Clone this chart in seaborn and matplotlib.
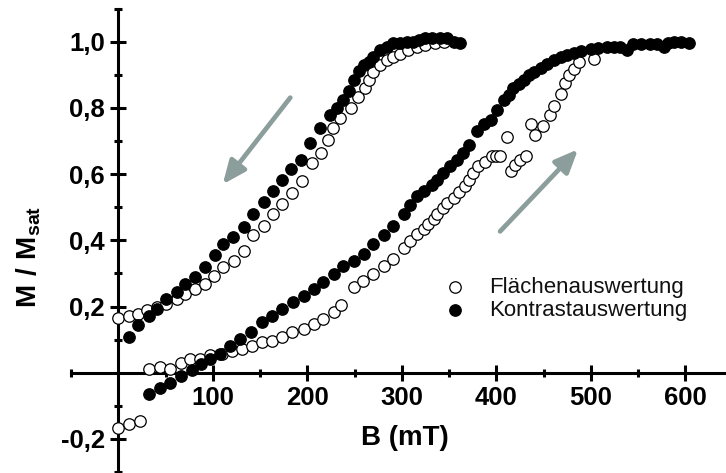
import pandas as pd
import matplotlib.pyplot as plt
import matplotlib.ticker as mticker
import seaborn as sns

# Values (B in mT, M / Msat)
# decreasing field branch
desc_open_B = [0, 11, 21, 30, 41, 51, 62, 71, 81, 92, 101, 111, 122, 133, 143, 154, 164, 173, 184, 194,
               205, 214, 222, 227, 235, 246, 254, 261, 265, 270, 277, 284, 291, 298, 307, 316, 325, 335, 345]
desc_open_M = [0.165, 0.171, 0.178, 0.188, 0.198, 0.208, 0.223, 0.238, 0.253, 0.268, 0.293, 0.318, 0.338, 0.367,
               0.415, 0.443, 0.478, 0.511, 0.543, 0.578, 0.634, 0.664, 0.704, 0.740, 0.770, 0.800, 0.834, 0.859,
               0.885, 0.909, 0.930, 0.944, 0.955, 0.964, 0.975, 0.984, 0.990, 0.995, 1.000]

desc_filled_B = [11, 21, 32, 41, 51, 62, 71, 81, 92, 102, 111, 121, 133, 143, 154, 164, 173, 183, 193, 203,
                 213, 224, 231, 238, 244, 249, 255, 260, 265, 270, 277, 284, 291, 298, 305, 312, 318, 325, 332,
                 340, 348, 355, 362]
desc_filled_M = [0.107, 0.144, 0.172, 0.193, 0.222, 0.243, 0.268, 0.288, 0.320, 0.355, 0.388, 0.410, 0.440, 0.478,
                 0.515, 0.548, 0.583, 0.614, 0.644, 0.695, 0.740, 0.779, 0.800, 0.824, 0.850, 0.884, 0.910, 0.930,
                 0.940, 0.955, 0.975, 0.985, 0.995, 0.997, 1.000, 1.000, 1.005, 1.010, 1.012, 1.012, 1.010, 1.000,
                 0.996]

# increasing field branch
asc_open_B = [0, 11, 23, 32, 44, 55, 66, 76, 87, 97, 110, 120, 131, 141, 152, 163, 173, 184, 196, 207,
              217, 228, 236, 249, 259, 270, 281, 291, 302, 309, 316, 323, 328, 334, 337, 344, 348, 355, 360, 367,
              371, 375, 381, 388, 395, 400, 404, 411, 415, 420, 425, 431, 437, 441, 449, 457, 461, 468, 473, 477,
              482, 488, 503]
asc_open_M = [-0.167, -0.156, -0.146, 0.012, 0.017, 0.010, 0.030, 0.040, 0.042, 0.054, 0.057, 0.067, 0.072, 0.082,
              0.092, 0.097, 0.107, 0.122, 0.132, 0.147, 0.162, 0.182, 0.205, 0.258, 0.277, 0.298, 0.323, 0.343,
              0.378, 0.398, 0.418, 0.433, 0.448, 0.463, 0.478, 0.498, 0.513, 0.528, 0.545, 0.563, 0.583, 0.603,
              0.623, 0.638, 0.654, 0.655, 0.654, 0.711, 0.608, 0.628, 0.644, 0.654, 0.750, 0.717, 0.745, 0.779,
              0.807, 0.843, 0.874, 0.899, 0.917, 0.939, 0.949]

asc_filled_B = [32, 44, 55, 66, 78, 88, 97, 108, 118, 129, 140, 152, 163, 173, 185, 196, 207, 217, 228, 238,
                249, 260, 270, 281, 291, 302, 309, 316, 323, 332, 337, 344, 351, 358, 365, 371, 380, 387, 394, 401,
                408, 413, 418, 424, 429, 435, 440, 447, 454, 461, 468, 475, 482, 490, 500, 508, 517, 524, 531, 538,
                545, 553, 563, 570, 577, 582, 588, 595, 604]
asc_filled_M = [-0.063, -0.045, -0.030, -0.009, 0.007, 0.027, 0.042, 0.057, 0.082, 0.102, 0.124, 0.152, 0.172,
                0.193, 0.213, 0.232, 0.253, 0.273, 0.298, 0.323, 0.338, 0.358, 0.388, 0.415, 0.443, 0.480, 0.508,
                0.533, 0.550, 0.568, 0.583, 0.603, 0.623, 0.644, 0.664, 0.689, 0.729, 0.750, 0.764, 0.794, 0.824,
                0.840, 0.859, 0.872, 0.884, 0.900, 0.909, 0.922, 0.934, 0.945, 0.954, 0.960, 0.966, 0.972, 0.979,
                0.982, 0.984, 0.984, 0.985, 0.974, 0.994, 0.994, 0.994, 0.992, 0.984, 0.995, 0.999, 0.998, 0.997]

x_ticks = [100, 200, 300, 400, 500, 600]
x_minor = [-50, 50, 150, 250, 350, 450, 550]
y_ticks = [-0.2, 0.2, 0.4, 0.6, 0.8, 1.0]
y_minor = [-0.3, -0.1, 0.1, 0.3, 0.5, 0.7, 0.9, 1.1]

# arrows marking sweep direction (tail, head)
arrow_down = ((182, 0.831), (110.5, 0.569))
arrow_up = ((404, 0.427), (486.5, 0.675))
arrow_color = '#8c9e9b'

LABEL_OPEN = 'Flächenauswertung'
LABEL_FILLED = 'Kontrastauswertung'

frames = []
for b, m, meth in [(desc_open_B, desc_open_M, LABEL_OPEN), (asc_open_B, asc_open_M, LABEL_OPEN),
                   (desc_filled_B, desc_filled_M, LABEL_FILLED), (asc_filled_B, asc_filled_M, LABEL_FILLED)]:
    frames.append(pd.DataFrame({'B': b, 'M': m, 'Methode': meth}))
df = pd.concat(frames, ignore_index=True)

sns.set_theme(style='white')
plt.rcParams['font.family'] = ['Liberation Sans', 'DejaVu Sans']
plt.rcParams['mathtext.fontset'] = 'custom'
plt.rcParams['mathtext.rm'] = 'Liberation Sans'
plt.rcParams['mathtext.bf'] = 'Liberation Sans:bold'
for key in ['text.color', 'axes.labelcolor', 'xtick.color', 'ytick.color']:
    plt.rcParams[key] = 'black'

fig = plt.figure(figsize=(7.26, 4.73), dpi=100)
ax = fig.add_axes([71 / 726, 1 / 473, 655 / 726, 463.4 / 473])

sns.scatterplot(data=df[df['Methode'] == LABEL_OPEN], x='B', y='M', marker='o', s=68,
                color='white', edgecolor='black', linewidth=0.9, label=LABEL_OPEN, zorder=3, ax=ax)
sns.scatterplot(data=df[df['Methode'] == LABEL_FILLED], x='B', y='M', marker='o', s=68,
                color='black', edgecolor='black', linewidth=0.9, label=LABEL_FILLED, zorder=4, ax=ax)

ax.set_xlim(-50, 643)
ax.set_ylim(-0.3, 1.1)
ax.set_xlabel('')
ax.set_ylabel('')

# axes crossing at the origin
for side in ['top', 'right']:
    ax.spines[side].set_visible(False)
for side in ['left', 'bottom']:
    ax.spines[side].set_position(('data', 0))
    ax.spines[side].set_linewidth(2.2)
    ax.spines[side].set_color('black')

fmt = lambda v: f'{v:.1f}'.replace('.', ',')
ax.set_xticks(x_ticks, labels=[str(v) for v in x_ticks], fontsize=18.5, fontweight='bold', color='black')
ax.set_yticks(y_ticks, labels=[fmt(v) for v in y_ticks], fontsize=18.5, fontweight='bold', color='black')
ax.xaxis.set_minor_locator(mticker.FixedLocator(x_minor))
ax.yaxis.set_minor_locator(mticker.FixedLocator(y_minor))
ax.tick_params(which='major', direction='inout', length=12, width=2.2, color='black', pad=3.5,
               bottom=True, left=True)
ax.tick_params(which='minor', direction='inout', length=6, width=2.2, color='black',
               bottom=True, left=True)

for (tail, head) in [arrow_down, arrow_up]:
    ax.annotate('', xy=head, xytext=tail,
                arrowprops=dict(arrowstyle='-|>,head_length=0.7,head_width=0.3', color=arrow_color,
                                lw=3.4, mutation_scale=20, shrinkA=0, shrinkB=0))

leg = ax.legend(loc='center left', bbox_to_anchor=(444 / 726, 1 - 299 / 473), bbox_transform=fig.transFigure,
                frameon=False, fontsize=16, handlelength=1.0, handletextpad=1.05, borderpad=0,
                borderaxespad=0, labelspacing=0.1)
for t in leg.get_texts():
    t.set_color('#111111')

fig.text(405 / 726, 1 - 438 / 473, 'B (mT)', ha='center', va='center', fontsize=20, fontweight='bold')
fig.text(29 / 726, 1 - 257 / 473, r'$\mathbf{M\ /\ M_{sat}}$', rotation=90, ha='center', va='center',
         fontsize=20)

fig.savefig('out.png', dpi=100)
